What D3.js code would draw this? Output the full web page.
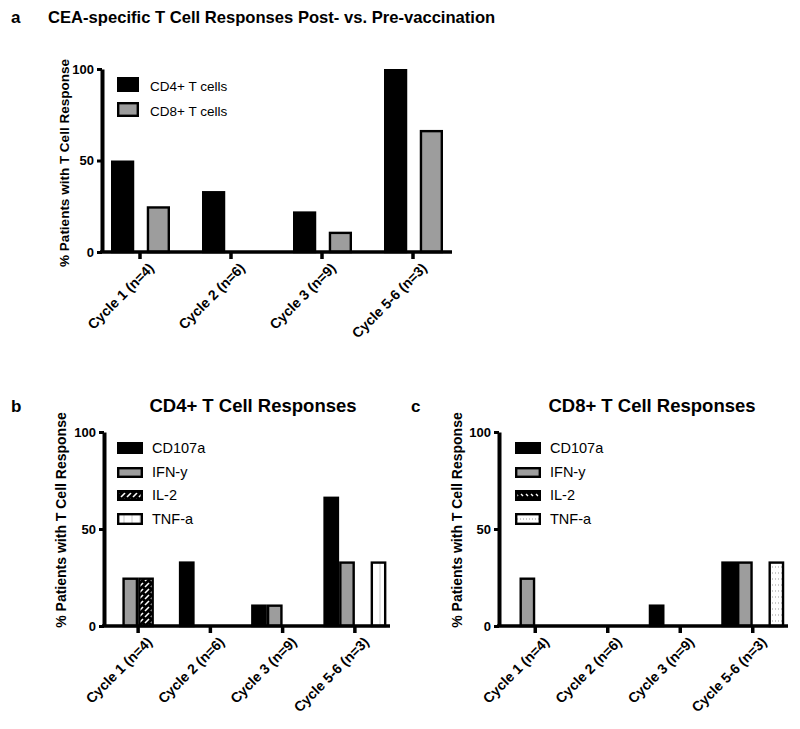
<!DOCTYPE html>
<html>
<head>
<meta charset="utf-8">
<script src="https://cdn.jsdelivr.net/npm/d3@7"></script>
<style>
  body { margin: 0; background: #fff; }
  svg text { font-family: "Liberation Sans", Arial, sans-serif; fill: #000; }
</style>
</head>
<body>
<div id="wrapper"></div>
<script>
// categories
var cycles = ["Cycle 1 (n=4)", "Cycle 2 (n=6)", "Cycle 3 (n=9)", "Cycle 5-6 (n=3)"];
var yTicks = [0, 50, 100];

// panel a : % patients with response
var seriesA = ["CD4+ T cells", "CD8+ T cells"];
var cd4All = [50, 33.3, 22.2, 100];
var cd8All = [25, 0, 11.1, 66.7];

// panel b / c : by marker
var markers = ["CD107a", "IFN-y", "IL-2", "TNF-a"];
var cd4_cd107a = [0, 33.3, 11.1, 66.7];
var cd4_ifng   = [25, 0, 11.1, 33.3];
var cd4_il2    = [25, 0, 0, 0];
var cd4_tnfa   = [0, 0, 0, 33.3];

var cd8_cd107a = [0, 0, 11.1, 33.3];
var cd8_ifng   = [25, 0, 0, 33.3];
var cd8_il2    = [0, 0, 0, 0];
var cd8_tnfa   = [0, 0, 0, 33.3];

var w = 800, h = 729;
var gray = "#9d9d9d";

var svg = d3.select("#wrapper").append("svg")
    .attr("width", w).attr("height", h);

// patterns
var defs = svg.append("defs");
var p1 = defs.append("pattern").attr("id", "hatchB")
    .attr("patternUnits", "userSpaceOnUse").attr("width", 6).attr("height", 6);
p1.append("rect").attr("width", 6).attr("height", 6).attr("fill", "#000");
p1.append("path").attr("d", "M1,5 L5,1").attr("stroke", "#fff").attr("stroke-width", 1.6);
var p2 = defs.append("pattern").attr("id", "hatchC")
    .attr("patternUnits", "userSpaceOnUse").attr("width", 5).attr("height", 6);
p2.append("rect").attr("width", 5).attr("height", 6).attr("fill", "#000");
p2.append("path").attr("d", "M1,2 L3,4").attr("stroke", "#fff").attr("stroke-width", 1.4);
var p3 = defs.append("pattern").attr("id", "vlines")
    .attr("patternUnits", "userSpaceOnUse").attr("width", 8).attr("height", 8);
p3.append("rect").attr("width", 8).attr("height", 8).attr("fill", "#fff");
p3.append("path").attr("d", "M4,0 L4,8").attr("stroke", "#ccc").attr("stroke-width", 1);
var p4 = defs.append("pattern").attr("id", "dots")
    .attr("patternUnits", "userSpaceOnUse").attr("width", 3).attr("height", 6);
p4.append("rect").attr("width", 3).attr("height", 6).attr("fill", "#fff");
p4.append("rect").attr("x", 1).attr("y", 2).attr("width", 1).attr("height", 2).attr("fill", "#ccc");

function drawPanel(o) {
    var g = svg.append("g");

    var x = d3.scaleBand().domain(cycles).range(o.xRange).padding(0);
    var x1 = d3.scaleBand().domain(o.series).range(o.inner).paddingInner(o.pad);
    var y = d3.scaleLinear().domain([0, 100]).range(o.yRange);

    // bars
    o.series.forEach(function(s, si) {
        g.selectAll(null)
            .data(o.values[si].map(function(v, i) { return {c: cycles[i], v: v}; })
                .filter(function(d) { return d.v > 0; }))
            .enter().append("rect")
            .attr("x", function(d) { return x(d.c) + x.bandwidth() / 2 + x1(s) + 1.2; })
            .attr("y", function(d) { return y(d.v) + 1.2; })
            .attr("width", x1.bandwidth() - 2.4)
            .attr("height", function(d) { return y(0) - y(d.v) - 1.2; })
            .attr("fill", o.fills[si])
            .attr("stroke", "#000")
            .attr("stroke-width", 2.4);
    });

    // y axis
    var ya = g.append("g")
        .attr("transform", "translate(" + o.yAxisX + ",0)")
        .call(d3.axisLeft(y).tickValues(yTicks).tickSize(5).tickSizeOuter(0).tickPadding(3));
    ya.select(".domain").attr("stroke-width", 4);
    ya.selectAll(".tick line").attr("stroke-width", 3);
    ya.selectAll(".tick text")
        .style("font-size", "13px").style("font-weight", "bold");

    // x axis
    var xa = g.append("g")
        .attr("transform", "translate(0," + o.yRange[0] + ")")
        .call(d3.axisBottom(x).tickSizeInner(7).tickSizeOuter(0));
    xa.select(".domain").remove();
    xa.append("line")
        .attr("x1", o.yAxisX - 2).attr("x2", o.xEnd)
        .attr("y1", 0).attr("y2", 0)
        .attr("stroke", "#000").attr("stroke-width", 3.5);
    xa.selectAll(".tick line").attr("stroke-width", 3.5);
    xa.selectAll(".tick text")
        .style("font-size", "14px").style("font-weight", "bold")
        .attr("text-anchor", "end")
        .attr("transform", "translate(7,9) rotate(-45)")
        .attr("dy", "0.8em").attr("y", 0).attr("x", 0);

    // axis title
    g.append("text")
        .attr("transform", "translate(" + o.titleX + "," + o.titleMid + ") rotate(-90)")
        .attr("text-anchor", "middle")
        .style("font-size", o.yTitleSize).style("font-weight", "bold")
        .text("% Patients with T Cell Response");

    // legend
    var lg = g.append("g");
    o.series.forEach(function(s, si) {
        lg.append("rect")
            .attr("x", o.legX + 1.2).attr("y", o.legY[si] + 1.2)
            .attr("width", o.legW - 2.4).attr("height", o.legH[si] - 2.4)
            .attr("fill", o.fills[si]).attr("stroke", "#000").attr("stroke-width", 2.4);
        lg.append("text")
            .attr("x", o.legX + o.legW + o.legGap)
            .attr("y", o.legY[si] + o.legH[si] - 1)
            .style("font-size", o.legSize)
            .text(s);
    });

    // panel letter + title
    svg.append("text").attr("x", o.letterX).attr("y", o.titleY)
        .style("font-size", "17px").style("font-weight", "bold").text(o.letter);
    svg.append("text").attr("x", o.headX).attr("y", o.titleY)
        .attr("text-anchor", o.headAnchor)
        .style("font-size", o.headSize).style("font-weight", "bold").text(o.title);
}

drawPanel({
    letter: "a", letterX: 11, title: "CEA-specific T Cell Responses Post- vs. Pre-vaccination",
    headX: 48, headAnchor: "start", headSize: "16.6px", titleY: 23,
    series: seriesA, values: [cd4All, cd8All], fills: ["#000", gray],
    xRange: [94.5, 458.5], inner: [-29, 30], pad: 0.35,
    yRange: [252, 69], yAxisX: 102, xEnd: 452, titleX: 69, titleMid: 163, yTitleSize: "13.5px",
    legX: 117, legY: [77, 102], legH: [15, 15], legW: 22, legGap: 11, legSize: "13.5px"
});

drawPanel({
    letter: "b", letterX: 11, title: "CD4+ T Cell Responses",
    headX: 253, headAnchor: "middle", headSize: "18.5px", titleY: 412,
    series: markers, values: [cd4_cd107a, cd4_ifng, cd4_il2, cd4_tnfa],
    fills: ["#000", gray, "url(#hatchB)", "url(#vlines)"],
    xRange: [102, 391], inner: [-31.5, 31.5], pad: 0,
    yRange: [626, 432], yAxisX: 104, xEnd: 390, titleX: 66, titleMid: 520, yTitleSize: "14px",
    legX: 117, legY: [442, 467, 490, 513], legH: [12, 11, 11, 12], legW: 26, legGap: 9, legSize: "14.5px"
});

drawPanel({
    letter: "c", letterX: 411, title: "CD8+ T Cell Responses",
    headX: 652, headAnchor: "middle", headSize: "18.5px", titleY: 412,
    series: markers, values: [cd8_cd107a, cd8_ifng, cd8_il2, cd8_tnfa],
    fills: ["#000", gray, "url(#hatchC)", "url(#dots)"],
    xRange: [499, 789], inner: [-31.5, 31.5], pad: 0,
    yRange: [626, 432], yAxisX: 499, xEnd: 788, titleX: 462, titleMid: 520, yTitleSize: "14px",
    legX: 515, legY: [442, 467, 490, 513], legH: [12, 11, 11, 12], legW: 26, legGap: 9, legSize: "14.5px"
});
</script>
</body>
</html>
